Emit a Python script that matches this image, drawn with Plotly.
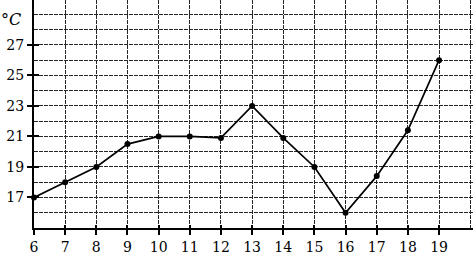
import plotly.graph_objects as go

hours = [6, 7, 8, 9, 10, 11, 12, 13, 14, 15, 16, 17, 18, 19]
temps = [17, 18, 19, 20.5, 21, 21, 20.9, 23, 20.9, 19, 16, 18.4, 21.4, 26]
x_ticks = [6, 7, 8, 9, 10, 11, 12, 13, 14, 15, 16, 17, 18, 19]
y_ticks = [17, 19, 21, 23, 25, 27]
unit_label = "°C"

font_fam = "DejaVu Serif"
grid_col = "#262626"
grid_dash = "4px,1px"
x_range = [6, 20.09]
y_range = [15, 29.94]

fig = go.Figure()
fig.add_trace(go.Scatter(
    x=hours, y=temps, mode="lines+markers",
    line=dict(color="black", width=1.7),
    marker=dict(color="black", size=6),
    cliponaxis=False,
))
# invisible helper trace so the overlay axes (inner tick halves) are drawn
fig.add_trace(go.Scatter(x=[x_range[0]], y=[y_range[0]], xaxis="x2", yaxis="y2",
                         mode="markers", marker=dict(opacity=0), hoverinfo="skip"))

grid_kw = dict(showgrid=True, gridcolor=grid_col, gridwidth=1.3, griddash=grid_dash)

fig.update_layout(
    width=473, height=255,
    margin=dict(l=34, r=0, t=0, b=21),
    plot_bgcolor="white", paper_bgcolor="white",
    showlegend=False,
    font=dict(family=font_fam, size=14, color="black"),
    xaxis=dict(
        range=x_range, tickvals=x_ticks, ticktext=[str(v) for v in x_ticks],
        showline=True, linecolor="black", linewidth=2,
        ticks="outside", ticklen=5, tickwidth=2, tickcolor="black",
        minor=dict(dtick=1, tick0=6, ticks="", **grid_kw),
        zeroline=False, tickfont=dict(family=font_fam, size=14), **grid_kw,
    ),
    yaxis=dict(
        range=y_range, tickvals=y_ticks, ticktext=[str(v) for v in y_ticks],
        showline=True, linecolor="black", linewidth=2,
        ticks="outside", ticklen=5, tickwidth=2, tickcolor="black",
        minor=dict(dtick=1, tick0=15, ticks="", **grid_kw),
        zeroline=False, tickfont=dict(family=font_fam, size=14), **grid_kw,
    ),
    xaxis2=dict(overlaying="x", anchor="y", range=x_range, tickvals=x_ticks,
                showticklabels=False, ticks="inside", ticklen=3, tickwidth=2,
                tickcolor="black", showgrid=False, showline=False, zeroline=False),
    yaxis2=dict(overlaying="y", anchor="x", side="left", range=y_range, tickvals=y_ticks,
                showticklabels=False, ticks="inside", ticklen=5, tickwidth=2,
                tickcolor="black", showgrid=False, showline=False, zeroline=False),
)
fig.add_annotation(
    text=unit_label, xref="paper", yref="y", x=0, y=28.65,
    xanchor="right", yanchor="middle", xshift=-11, showarrow=False,
    font=dict(family=font_fam, size=16, color="black", style="italic"),
)

fig.write_html("out.html")
